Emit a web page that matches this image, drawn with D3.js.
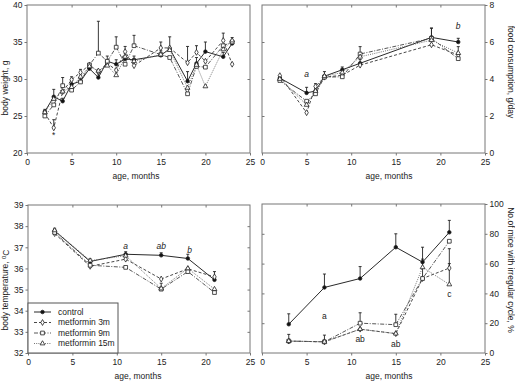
<!DOCTYPE html>
<html>
<head>
<meta charset="utf-8">
<script src="https://cdn.jsdelivr.net/npm/d3@7"></script>
<style>
  body { margin: 0; background: #fff; }
  text { font-family: "Liberation Sans", Arial, sans-serif; fill: #222; }
</style>
</head>
<body>
<svg id="chart" width="515" height="381"></svg>
<script>
// ---- data ----
const groups = ["control", "metformin 3m", "metformin 9m", "metformin 15m"];

// body weight, g
const wtMonths = [2, 3, 4, 5, 6, 7, 8, 9, 10, 11, 12, 15, 16, 18, 19, 20, 22, 23];
const wtControl = [25.6, 27.6, 27.0, 29.3, 29.7, 31.4, 30.2, 32.4, 32.0, 32.7, 32.6, 33.2, 34.1, 29.7, 32.1, 33.7, 33.0, 34.8];
const wt3m = [25.4, 23.4, 28.3, 29.9, 30.9, 31.9, 31.0, 32.1, 31.2, 33.7, 31.8, 34.2, 34.2, 32.2, 33.6, 32.4, 35.2, 32.0];
const wt9m = [25.0, 26.5, 29.1, 28.5, 29.6, 31.9, 33.5, 32.4, 34.3, 32.0, 34.5, 33.3, 32.9, 28.0, 31.7, 31.6, 34.5, 35.0];
const wt15m = [25.5, 27.3, 28.3, 28.9, 30.3, 31.7, 31.1, 31.8, 30.5, 33.0, 32.4, 33.3, 33.9, 28.8, 31.9, 29.0, 34.0, 35.2];
const wtErrControl = [0.3, 1.0, 0.4, 0.5, 0.4, 0.6, 0.5, 0.7, 0.6, 0.5, 0.5, 0.6, 1.6, 1.3, 0.8, 1.3, 0.6, 0.8];
const wtErr3m = [0, 1.1, 0, 0.4, 0.4, 0, 0, 0, 0, 0.7, 0, 0.8, 0, 2.2, 0.9, 0, 1.0, 0];
const wtErr9m = [0, 0, 1.1, 0, 0, 0, 4.3, 0, 1.4, 0, 1.4, 0, 0, 0, 0, 0, 0, 0];
const wtErr15m = [0, 0, 0, 0, 0, 0, 0, 0, 0, 0, 0, 0, 0, 0, 0, 0, 0, 0];

// food consumption, g/day
const fcMonths = [2, 5, 6, 7, 9, 11, 19, 22];
const fcControl = [4.05, 3.25, 3.35, 4.15, 4.5, 4.85, 6.25, 6.0];
const fc3m = [4.18, 2.18, 3.6, 4.1, 4.2, 4.75, 5.85, 5.3];
const fc9m = [3.92, 2.8, 3.2, 4.1, 4.12, 5.35, 6.2, 5.1];
const fc15m = [4.0, 2.6, 3.35, 4.15, 4.35, 5.2, 6.1, 5.4];
const fcErrControl = [0.1, 0.3, 0, 0.25, 0.15, 0.2, 0.5, 0.2];
const fcErr3m = [0, 0, 0.15, 0, 0, 0, 0, 0.45];
const fcErr9m = [0, 0, 0, 0, 0, 0.4, 0.55, 0];
const fcErr15m = [0, 0, 0, 0, 0, 0, 0, 0];

// body temperature, C
const tMonths = [3, 7, 11, 15, 18, 21];
const tControl = [37.78, 36.33, 36.67, 36.62, 36.47, 35.46];
const t3m = [37.65, 36.1, 36.44, 35.5, 35.98, 35.6];
const t9m = [37.7, 36.15, 36.05, 35.02, 35.85, 34.86];
const t15m = [37.8, 36.37, 36.6, 35.05, 36.0, 35.02];
const tErrControl = [0.12, 0.12, 0.12, 0.12, 0.2, 0];
const tErr3m = [0, 0, 0, 0, 0, 0.25];
const tErr9m = [0, 0, 0, 0.28, 0, 0];
const tErr15m = [0, 0, 0, 0, 0, 0];

// irregular cycle, %
const irMonths = [3, 7, 11, 15, 18, 21];
const irControl = [19.3, 44, 50, 71, 61, 81];
const ir3m = [8, 7.5, 16, 13, 50, 57];
const ir9m = [8, 7.5, 20, 19, 50, 75];
const ir15m = [8, 7.5, 16, 13, 57.5, 46];
const irErrControl = [7, 9, 8, 9, 10, 8];
const irErr3m = [4.5, 4.5, 0, 0, 0, 13];
const irErr9m = [0, 0, 7, 7, 13, 0];
const irErr15m = [0, 0, 0, 0, 0, 14];

// significance letters [month, value, text]
const fcLetters = [[5, 4.25, "a"], [22, 6.85, "b"]];
const tLetters = [[11, 37.08, "a"], [15, 37.08, "ab"], [18.2, 36.85, "b"]];
const irLetters = [[7, 24.5, "a"], [11, 9.5, "ab"], [15, 5.8, "ab"], [21, 39.5, "c"]];
const wtLetters = [[3, 22.4, "*"]];

const xTicks = [0, 5, 10, 15, 20, 25];

// ---- styles ----
const styles = [
  {dash: null, stroke: "#111", symbol: d3.symbolCircle, size: 10, fill: "#111"},
  {dash: "3,2", stroke: "#333", symbol: d3.symbolDiamond, size: 10, fill: "#fff"},
  {dash: "4,1.5,1,1.5", stroke: "#444", symbol: d3.symbolSquare, size: 14, fill: "#fff"},
  {dash: "1,1.2", stroke: "#666", symbol: d3.symbolTriangle, size: 10, fill: "#fff"}
];

const svg = d3.select("#chart");

function panel(cfg) {
  let x = d3.scaleLinear().domain([0, 25]).range([cfg.left, cfg.right]);
  let y = d3.scaleLinear().domain(cfg.ydom).range([cfg.bottom, cfg.top]);
  let g = svg.append("g");

  // frame + axes
  g.append("rect")
    .attr("x", cfg.left).attr("y", cfg.top)
    .attr("width", cfg.right - cfg.left).attr("height", cfg.bottom - cfg.top)
    .style("fill", "none").style("stroke", "#777").style("stroke-width", 1);

  let axB = g.append("g").attr("transform", `translate(0,${cfg.bottom})`)
    .call(d3.axisBottom(x).tickValues(xTicks).tickFormat(d3.format("d"))
      .tickSize(2.5).tickSizeOuter(0).tickPadding(3));
  let axT = g.append("g").attr("transform", `translate(0,${cfg.top})`)
    .call(d3.axisTop(x).tickValues(xTicks.slice(1, -1)).tickSize(-2.5).tickSizeOuter(0).tickFormat(""));
  let yAxis = cfg.side == "left" ? d3.axisLeft(y) : d3.axisRight(y);
  let yMirror = cfg.side == "left" ? d3.axisRight(y) : d3.axisLeft(y);
  let axY = g.append("g").attr("transform", `translate(${cfg.side == "left" ? cfg.left : cfg.right},0)`)
    .call(yAxis.tickValues(cfg.yticks).tickFormat(d3.format("d"))
      .tickSize(2.5).tickSizeOuter(0).tickPadding(2));
  let axM = g.append("g").attr("transform", `translate(${cfg.side == "left" ? cfg.right : cfg.left},0)`)
    .call(yMirror.tickValues(cfg.yticks.slice(1, -1)).tickSize(-2.5).tickSizeOuter(0).tickFormat(""));
  [axB, axT, axY, axM].forEach(function(a) {
    a.select(".domain").remove();
    a.selectAll("line").style("stroke", "#777");
    a.selectAll("text").style("font-size", "8.5px").style("fill", "#222")
      .style("font-family", '"Liberation Sans", Arial, sans-serif');
  });

  // x label
  g.append("text")
    .attr("x", cfg.xlabX).attr("y", cfg.bottom + 26)
    .style("font-size", "8.5px").style("text-anchor", "middle")
    .text("age, months");

  // y label
  let yl = g.append("text")
    .attr("transform", `translate(${cfg.ylabX},${cfg.ylabY}) rotate(${cfg.side == "left" ? -90 : 90})`)
    .style("font-size", "8.5px").style("text-anchor", "middle");
  cfg.ylab(yl);

  let line = d3.line().x((d) => x(d[0])).y((d) => y(d[1]));

  // lines
  cfg.series.forEach(function(s, i) {
    let pts = cfg.months.map((m, j) => [m, s[j]]);
    g.append("path")
      .attr("d", line(pts))
      .style("fill", "none")
      .style("stroke", styles[i].stroke)
      .style("stroke-width", 0.9)
      .style("stroke-dasharray", styles[i].dash);
  });

  // error bars (upper only)
  cfg.series.forEach(function(s, i) {
    let errs = cfg.errs[i];
    let bars = g.selectAll(null)
      .data(cfg.months.map((m, j) => [m, s[j], errs[j]]).filter((d) => d[2] > 0))
      .enter().append("g");
    bars.append("line")
      .attr("x1", (d) => x(d[0])).attr("x2", (d) => x(d[0]))
      .attr("y1", (d) => y(d[1])).attr("y2", (d) => y(d[1] + d[2]))
      .style("stroke", "#222").style("stroke-width", 0.9);
    bars.append("line")
      .attr("x1", (d) => x(d[0]) - 1.5).attr("x2", (d) => x(d[0]) + 1.5)
      .attr("y1", (d) => y(d[1] + d[2])).attr("y2", (d) => y(d[1] + d[2]))
      .style("stroke", "#222").style("stroke-width", 0.9);
  });

  // markers
  cfg.series.forEach(function(s, i) {
    g.selectAll(null)
      .data(cfg.months.map((m, j) => [m, s[j]]))
      .enter().append("path")
      .attr("d", d3.symbol().type(styles[i].symbol).size(styles[i].size))
      .attr("transform", (d) => `translate(${x(d[0])},${y(d[1])})`)
      .style("fill", styles[i].fill)
      .style("stroke", "#222")
      .style("stroke-width", 0.8);
  });

  // letters
  g.selectAll(null)
    .data(cfg.letters)
    .enter().append("text")
    .attr("x", (d) => x(d[0]))
    .attr("y", (d) => y(d[1]))
    .attr("dy", "0.35em")
    .style("text-anchor", "middle")
    .style("font-size", "8.5px")
    .style("font-style", cfg.italic ? "italic" : "normal")
    .text((d) => d[2]);
}

panel({
  left: 27, right: 250, top: 5, bottom: 153, side: "left",
  ydom: [20, 40], yticks: [20, 25, 30, 35, 40],
  months: wtMonths, series: [wtControl, wt3m, wt9m, wt15m],
  errs: [wtErrControl, wtErr3m, wtErr9m, wtErr15m],
  letters: wtLetters, italic: false,
  xlabX: 136, ylabX: 8, ylabY: 88,
  ylab: (t) => t.text("body weight, g")
});

panel({
  left: 262, right: 485, top: 5, bottom: 153, side: "right",
  ydom: [0, 8], yticks: [0, 2, 4, 6, 8],
  months: fcMonths, series: [fcControl, fc3m, fc9m, fc15m],
  errs: [fcErrControl, fcErr3m, fcErr9m, fcErr15m],
  letters: fcLetters, italic: true,
  xlabX: 389, ylabX: 508, ylabY: 72,
  ylab: (t) => t.text("food consumption, g/day")
});

panel({
  left: 28, right: 250, top: 205, bottom: 353, side: "left",
  ydom: [32, 39], yticks: [32, 33, 34, 35, 36, 37, 38, 39],
  months: tMonths, series: [tControl, t3m, t9m, t15m],
  errs: [tErrControl, tErr3m, tErr9m, tErr15m],
  letters: tLetters, italic: true,
  xlabX: 138, ylabX: 8, ylabY: 290,
  ylab: function(t) {
    t.append("tspan").text("body temperature, ");
    t.append("tspan").attr("dy", "-0.4em").style("font-size", "6px").text("0");
    t.append("tspan").attr("dy", "0.4em").text("C");
  }
});

panel({
  left: 262, right: 485, top: 204, bottom: 353, side: "right",
  ydom: [0, 100], yticks: [0, 20, 40, 60, 80, 100],
  months: irMonths, series: [irControl, ir3m, ir9m, ir15m],
  errs: [irErrControl, irErr3m, irErr9m, irErr15m],
  letters: irLetters, italic: false,
  xlabX: 389, ylabX: 508, ylabY: 270,
  ylab: (t) => t.text("No.of mice with irregular cycle, %")
});

// legend in body temperature panel
let legend = svg.append("g");
legend.append("rect")
  .attr("x", 28).attr("y", 303).attr("width", 90).attr("height", 50)
  .style("fill", "#fff").style("stroke", "#555").style("stroke-width", 1);
groups.forEach(function(name, i) {
  let ly = 312 + i * 10.5;
  legend.append("line")
    .attr("x1", 34).attr("x2", 51).attr("y1", ly).attr("y2", ly)
    .style("stroke", styles[i].stroke).style("stroke-width", 0.9)
    .style("stroke-dasharray", styles[i].dash);
  legend.append("path")
    .attr("d", d3.symbol().type(styles[i].symbol).size(styles[i].size))
    .attr("transform", `translate(42.5,${ly})`)
    .style("fill", styles[i].fill).style("stroke", "#222").style("stroke-width", 0.8);
  legend.append("text")
    .attr("x", 58).attr("y", ly).attr("dy", "0.35em")
    .style("font-size", "8.5px")
    .text(name);
});
</script>
</body>
</html>
